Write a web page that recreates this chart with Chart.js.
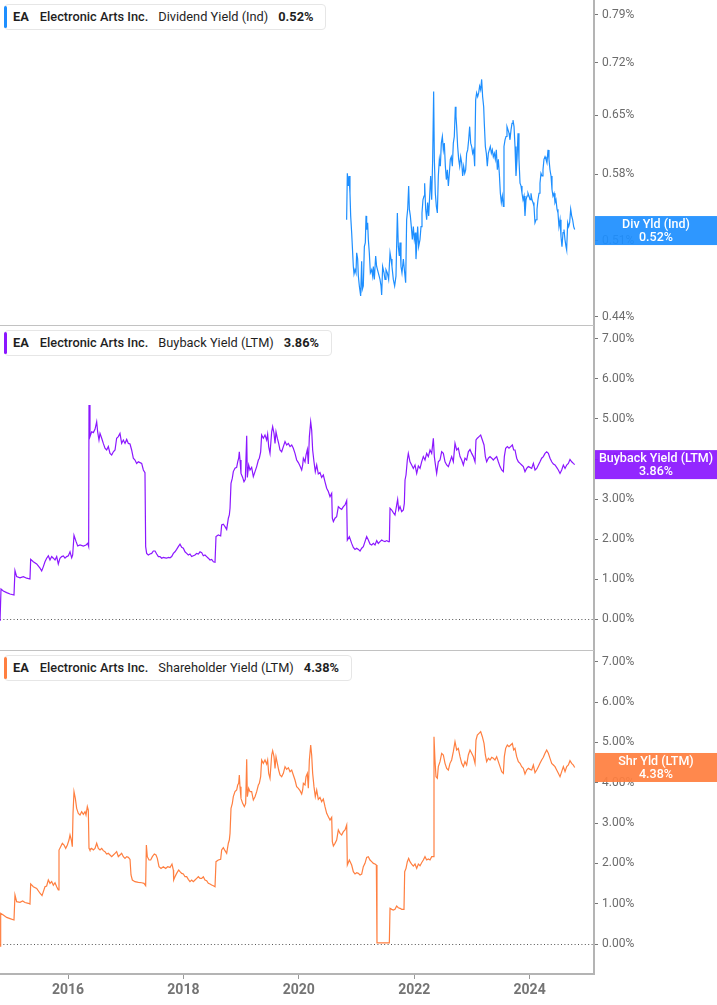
<!DOCTYPE html>
<html>
<head>
<meta charset="utf-8">
<script src="https://cdn.jsdelivr.net/npm/chart.js@4.4.1/dist/chart.umd.min.js"></script>
<style>
body { margin: 0; background: #fff; font-family: Roboto, sans-serif; }
#wrap { position: relative; width: 717px; height: 1005px; overflow: hidden; }
#wrap canvas { position: absolute; left: 0; }
.sep { position: absolute; left: 0; width: 594px; height: 1px; background: #c2c2c2; }
.legend { position: absolute; left: 4px; height: 26px; box-sizing: border-box; border: 1px solid #e6e6e6; border-radius: 4px;
  background: #fff; font-size: 12.8px; color: #1f1f1f; line-height: 24px; padding: 0 12px 0 8px; white-space: nowrap; }
.legend .bar { position: absolute; left: -1px; top: 1px; bottom: 1px; width: 3px; border-radius: 2px; }
.legend b { font-weight: 700; }
.legend .co { font-weight: 500; margin-left: 11px; }
.legend .me { margin-left: 10px; }
.legend .va { font-weight: 700; margin-left: 10px; }
</style>
</head>
<body>
<div id="wrap">
  <canvas id="divChart" width="717" height="325" style="top:0"></canvas>
  <canvas id="buybackChart" width="717" height="325" style="top:325px"></canvas>
  <canvas id="shrChart" width="717" height="355" style="top:650px"></canvas>
  <div class="sep" style="top:325px"></div>
  <div class="sep" style="top:650px"></div>
  <div class="legend" id="divLegend" style="top:4px"></div>
  <div class="legend" id="buybackLegend" style="top:330px"></div>
  <div class="legend" id="shrLegend" style="top:655px"></div>
</div>
<script>
// x axis range (decimal years) and tick labels
const xMin = 2014.8215;
const xMax = 2025.116;
const yearTicks = [2016, 2018, 2020, 2022, 2024];
const divTicks = [0.44, 0.51, 0.58, 0.65, 0.72, 0.79];
const pctTicks = [0, 1, 2, 3, 4, 5, 6, 7];

const divLatest = 0.52;
const buybackLatest = 3.86;
const shrLatest = 4.38;

// Dividend Yield (Ind), %
const divYears = [2020.829,2020.841,2020.858,2020.870,2020.887,2020.899,2020.916,2020.945,2020.957,2020.974,
2020.991,2021.003,2021.020,2021.032,2021.049,2021.072,2021.089,2021.101,2021.118,2021.136,
2021.153,2021.165,2021.176,2021.193,2021.205,2021.222,2021.240,2021.263,2021.280,2021.292,
2021.309,2021.332,2021.349,2021.378,2021.407,2021.425,2021.436,2021.453,2021.477,2021.494,
2021.511,2021.534,2021.557,2021.581,2021.598,2021.615,2021.638,2021.661,2021.684,2021.708,
2021.725,2021.742,2021.754,2021.771,2021.788,2021.812,2021.835,2021.852,2021.869,2021.887,
2021.904,2021.916,2021.933,2021.950,2021.968,2021.985,2022.002,2022.020,2022.031,2022.043,
2022.060,2022.077,2022.100,2022.118,2022.135,2022.152,2022.170,2022.181,2022.199,2022.216,
2022.233,2022.251,2022.268,2022.285,2022.303,2022.320,2022.337,2022.349,2022.366,2022.384,
2022.401,2022.418,2022.436,2022.453,2022.470,2022.488,2022.505,2022.522,2022.540,2022.557,
2022.574,2022.592,2022.609,2022.626,2022.643,2022.661,2022.678,2022.695,2022.713,2022.724,
2022.736,2022.753,2022.771,2022.788,2022.805,2022.823,2022.840,2022.857,2022.875,2022.892,
2022.909,2022.927,2022.944,2022.961,2022.979,2022.996,2023.013,2023.031,2023.048,2023.065,
2023.082,2023.100,2023.117,2023.134,2023.152,2023.169,2023.186,2023.204,2023.215,2023.233,
2023.250,2023.267,2023.285,2023.302,2023.319,2023.337,2023.354,2023.371,2023.389,2023.406,
2023.423,2023.441,2023.458,2023.475,2023.493,2023.510,2023.527,2023.545,2023.556,2023.574,
2023.591,2023.608,2023.626,2023.643,2023.660,2023.678,2023.695,2023.712,2023.730,2023.747,
2023.764,2023.782,2023.799,2023.816,2023.834,2023.851,2023.868,2023.886,2023.903,2023.920,
2023.938,2023.955,2023.972,2023.989,2024.007,2024.024,2024.041,2024.059,2024.076,2024.093,
2024.111,2024.128,2024.145,2024.163,2024.180,2024.197,2024.215,2024.232,2024.249,2024.267,
2024.284,2024.301,2024.319,2024.336,2024.353,2024.371,2024.388,2024.405,2024.423,2024.440,
2024.457,2024.475,2024.492,2024.509,2024.527,2024.544,2024.561,2024.579,2024.596,2024.613,
2024.631,2024.642,2024.660,2024.677,2024.694,2024.712,2024.729,2024.746,2024.764,2024.781];
const divValues = [0.531,0.581,0.567,0.578,0.559,0.535,0.518,0.485,0.478,0.482,
0.479,0.498,0.492,0.476,0.467,0.458,0.490,0.464,0.467,0.504,
0.508,0.535,0.521,0.528,0.511,0.498,0.479,0.482,0.476,0.485,
0.473,0.495,0.485,0.479,0.473,0.467,0.459,0.485,0.479,0.473,
0.482,0.479,0.473,0.498,0.492,0.485,0.473,0.467,0.476,0.538,
0.504,0.495,0.508,0.485,0.479,0.492,0.479,0.470,0.531,0.542,
0.567,0.542,0.535,0.524,0.511,0.524,0.511,0.518,0.492,0.504,
0.524,0.504,0.511,0.524,0.538,0.552,0.556,0.570,0.542,0.531,
0.549,0.535,0.556,0.578,0.552,0.597,0.681,0.597,0.559,0.545,
0.538,0.578,0.597,0.589,0.616,0.624,0.608,0.616,0.589,0.574,
0.585,0.567,0.581,0.597,0.600,0.589,0.616,0.624,0.661,0.649,
0.636,0.612,0.597,0.589,0.600,0.593,0.578,0.589,0.581,0.585,
0.604,0.608,0.620,0.636,0.616,0.612,0.604,0.608,0.589,0.670,
0.679,0.674,0.679,0.688,0.683,0.697,0.674,0.661,0.640,0.612,
0.604,0.589,0.604,0.608,0.612,0.604,0.608,0.600,0.604,0.597,
0.608,0.585,0.597,0.581,0.559,0.549,0.556,0.545,0.612,0.620,
0.624,0.636,0.632,0.628,0.620,0.632,0.640,0.644,0.636,0.612,
0.578,0.597,0.628,0.597,0.570,0.567,0.559,0.552,0.556,0.535,
0.552,0.556,0.559,0.556,0.552,0.559,0.552,0.549,0.545,0.528,
0.531,0.542,0.552,0.559,0.570,0.581,0.578,0.585,0.597,0.600,
0.597,0.593,0.608,0.597,0.585,0.578,0.563,0.556,0.559,0.549,
0.552,0.542,0.538,0.524,0.531,0.514,0.504,0.518,0.521,0.511,
0.504,0.501,0.528,0.524,0.528,0.542,0.535,0.531,0.524,0.521];

// Buyback Yield (LTM), %
const buybackYears = [2014.822,2014.839,2014.879,2014.937,2014.995,2015.064,2015.081,2015.110,2015.168,2015.226,
2015.284,2015.341,2015.353,2015.399,2015.457,2015.515,2015.544,2015.573,2015.601,2015.630,
2015.659,2015.688,2015.717,2015.746,2015.775,2015.804,2015.832,2015.861,2015.890,2015.919,
2015.948,2015.977,2016.006,2016.035,2016.064,2016.081,2016.104,2016.139,2016.168,2016.208,
2016.266,2016.312,2016.341,2016.358,2016.364,2016.381,2016.410,2016.439,2016.468,2016.497,
2016.514,2016.537,2016.555,2016.584,2016.612,2016.641,2016.670,2016.699,2016.728,2016.757,
2016.786,2016.815,2016.843,2016.872,2016.901,2016.930,2016.959,2016.988,2017.017,2017.046,
2017.075,2017.103,2017.132,2017.161,2017.190,2017.219,2017.248,2017.277,2017.306,2017.334,
2017.346,2017.363,2017.392,2017.421,2017.450,2017.479,2017.508,2017.537,2017.566,2017.594,
2017.623,2017.652,2017.681,2017.710,2017.739,2017.768,2017.797,2017.826,2017.854,2017.883,
2017.912,2017.941,2017.970,2017.999,2018.028,2018.057,2018.085,2018.114,2018.143,2018.172,
2018.201,2018.230,2018.259,2018.288,2018.317,2018.345,2018.374,2018.403,2018.432,2018.461,
2018.490,2018.519,2018.548,2018.565,2018.605,2018.646,2018.663,2018.692,2018.721,2018.750,
2018.779,2018.796,2018.808,2018.825,2018.848,2018.865,2018.894,2018.923,2018.941,2018.958,
2018.969,2018.981,2018.998,2019.027,2019.050,2019.073,2019.097,2019.108,2019.131,2019.154,
2019.183,2019.212,2019.241,2019.270,2019.299,2019.316,2019.339,2019.356,2019.385,2019.414,
2019.443,2019.460,2019.478,2019.501,2019.530,2019.547,2019.570,2019.588,2019.605,2019.628,
2019.651,2019.674,2019.703,2019.732,2019.761,2019.790,2019.819,2019.848,2019.877,2019.905,
2019.934,2019.963,2019.992,2020.021,2020.050,2020.067,2020.079,2020.108,2020.125,2020.148,
2020.165,2020.183,2020.206,2020.223,2020.240,2020.263,2020.286,2020.310,2020.338,2020.367,
2020.396,2020.425,2020.454,2020.483,2020.512,2020.541,2020.570,2020.581,2020.599,2020.627,
2020.656,2020.685,2020.714,2020.743,2020.772,2020.801,2020.830,2020.841,2020.876,2020.916,
2020.945,2020.974,2021.003,2021.032,
2021.061,2021.090,2021.118,2021.147,2021.176,2021.205,2021.234,2021.263,2021.292,2021.321,
2021.350,2021.378,2021.407,2021.436,2021.465,2021.494,2021.523,2021.552,2021.569,2021.581,
2021.610,2021.638,2021.667,2021.696,2021.713,2021.731,2021.754,2021.783,2021.812,2021.829,
2021.841,2021.858,2021.881,2021.898,2021.927,2021.956,2021.985,2022.014,2022.043,2022.072,
2022.101,2022.129,2022.158,2022.187,2022.216,2022.245,2022.274,2022.303,2022.332,2022.349,
2022.372,2022.389,2022.418,2022.447,2022.476,2022.505,2022.534,2022.563,2022.592,2022.620,
2022.649,2022.678,2022.707,2022.736,2022.765,2022.794,2022.823,2022.852,2022.880,2022.909,
2022.938,2022.967,2022.996,2023.025,2023.054,2023.071,2023.094,2023.123,2023.152,2023.181,
2023.210,2023.233,2023.256,2023.285,2023.314,2023.343,2023.371,2023.400,2023.429,2023.458,
2023.487,2023.516,2023.545,2023.562,2023.585,2023.614,2023.643,2023.672,2023.701,2023.724,
2023.747,2023.776,2023.805,2023.834,2023.863,2023.891,2023.920,2023.949,2023.978,2024.007,
2024.036,2024.065,2024.094,2024.123,2024.152,2024.180,2024.209,2024.238,2024.267,2024.296,
2024.325,2024.354,2024.383,2024.412,2024.440,2024.469,2024.498,2024.527,2024.556,2024.585,
2024.614,2024.643,2024.672,2024.700,2024.729,2024.758,2024.781];
const buybackValues = [-0.05,0.75,0.70,0.66,0.625,0.60,1.21,1.06,1.03,1.06,
1.02,1.00,1.49,1.43,1.375,1.27,1.20,1.31,1.43,1.52,
1.58,1.475,1.56,1.52,1.475,1.56,1.375,1.52,1.56,1.575,
1.52,1.56,1.58,1.68,1.53,1.60,2.09,1.94,1.825,1.85,
1.825,1.85,1.89,1.81,5.35,4.56,4.68,4.66,4.74,4.93,
4.68,4.475,4.64,4.52,4.39,4.27,4.225,4.31,4.14,4.10,
4.18,4.225,4.52,4.56,4.64,4.39,4.475,4.39,4.49,4.39,
4.375,4.225,4.02,3.975,3.89,3.93,3.91,3.89,3.725,3.66,
1.81,1.64,1.60,1.625,1.64,1.70,1.70,1.625,1.56,1.56,
1.52,1.54,1.53,1.52,1.54,1.53,1.56,1.64,1.68,1.74,
1.81,1.87,1.79,1.77,1.68,1.64,1.60,1.625,1.56,1.58,
1.60,1.64,1.625,1.68,1.66,1.58,1.60,1.56,1.52,1.475,
1.49,1.43,1.42,2.06,2.10,2.075,2.35,2.37,2.31,2.24,
2.52,2.60,2.77,3.39,3.52,3.685,3.77,3.79,3.93,4.02,
4.18,3.975,3.64,3.54,3.43,3.49,4.58,3.54,3.85,3.725,
3.79,3.56,3.685,3.81,3.975,4.02,4.18,4.60,4.52,4.60,
4.475,4.62,4.31,4.14,4.68,4.81,4.64,4.39,4.68,4.52,
4.39,4.225,4.18,4.31,4.435,4.35,4.39,4.31,4.35,4.27,
4.14,3.975,3.91,3.825,3.725,3.85,4.02,3.93,4.10,4.24,
3.875,4.56,4.93,4.725,4.225,3.93,3.685,3.85,3.625,3.66,
3.54,3.60,3.43,3.27,3.185,3.06,3.14,2.52,2.435,2.52,
2.56,2.81,2.77,2.74,2.81,2.85,2.96,1.975,2.06,1.89,
1.79,1.74,1.77,1.74,
1.70,1.77,1.81,1.935,2.06,1.975,1.875,1.85,1.89,1.85,
1.96,1.89,1.935,1.975,1.95,1.935,1.96,1.935,1.935,2.77,
2.725,2.66,2.60,2.85,2.99,2.725,2.81,2.685,2.725,2.89,
3.475,3.60,3.975,4.14,3.93,3.85,3.765,3.85,3.64,3.825,
3.765,3.93,4.06,3.975,4.14,4.06,4.225,4.14,4.52,4.06,
3.81,3.64,3.93,3.975,4.18,4.14,3.93,3.85,3.81,3.93,
4.06,3.93,4.39,4.225,4.27,4.06,3.975,3.85,4.02,3.975,
4.18,4.24,4.14,4.06,3.93,4.475,4.52,4.56,4.60,4.475,
4.35,4.06,3.93,4.02,4.06,4.02,3.975,4.02,4.06,3.93,
3.81,3.725,3.685,4.06,4.27,4.31,4.27,4.31,4.35,4.225,
4.225,4.02,3.93,3.89,3.85,3.81,3.685,3.765,3.81,3.79,
3.765,3.89,3.725,3.765,3.85,3.93,4.02,4.06,4.14,4.18,
4.14,4.02,3.93,3.875,3.85,3.79,3.725,3.64,3.725,3.85,
3.765,3.85,3.89,3.99,3.93,3.89,3.86];

// Shareholder Yield (LTM), %
const shrYears = [2014.822,2014.833,2014.879,2014.937,2014.995,2015.064,2015.081,2015.110,2015.168,2015.214,
2015.255,2015.313,2015.341,2015.353,2015.399,2015.457,2015.515,2015.550,2015.573,2015.601,
2015.630,2015.659,2015.688,2015.717,2015.746,2015.775,2015.804,2015.832,2015.844,2015.873,
2015.902,2015.931,2015.960,2015.989,2016.017,2016.035,2016.058,2016.075,2016.087,2016.104,
2016.127,2016.150,2016.179,2016.208,2016.237,2016.266,2016.295,2016.312,2016.335,2016.352,
2016.364,2016.381,2016.410,2016.439,2016.468,2016.497,2016.526,2016.555,2016.584,2016.612,
2016.641,2016.670,2016.699,2016.728,2016.757,2016.786,2016.815,2016.843,2016.872,2016.901,
2016.930,2016.959,2016.988,2017.017,2017.046,2017.075,2017.092,2017.115,2017.161,2017.219,
2017.277,2017.317,2017.346,2017.358,2017.375,2017.404,2017.433,2017.462,2017.496,2017.525,
2017.548,2017.577,2017.612,2017.652,2017.693,2017.727,2017.768,2017.802,2017.826,2017.831,
2017.854,2017.883,2017.918,2017.941,2017.970,2017.999,2018.028,2018.057,2018.085,2018.114,
2018.143,2018.172,2018.201,2018.230,2018.259,2018.288,2018.317,2018.345,2018.374,2018.403,
2018.432,2018.461,2018.490,2018.519,2018.548,2018.565,2018.605,2018.646,2018.663,2018.692,
2018.721,2018.750,2018.779,2018.796,2018.808,2018.825,2018.848,2018.865,2018.894,2018.923,
2018.941,2018.958,2018.969,2018.981,2018.998,2019.027,2019.056,2019.079,2019.097,2019.108,
2019.131,2019.154,2019.183,2019.212,2019.241,2019.270,2019.299,2019.316,2019.339,2019.356,
2019.385,2019.414,2019.443,2019.460,2019.478,2019.501,2019.530,2019.547,2019.570,2019.588,
2019.605,2019.628,2019.651,2019.674,2019.703,2019.732,2019.761,2019.790,2019.819,2019.848,
2019.877,2019.905,2019.934,2019.963,2019.992,2020.021,2020.050,2020.067,2020.079,2020.108,
2020.125,2020.148,2020.165,2020.183,2020.206,2020.223,2020.240,2020.263,2020.286,2020.310,
2020.338,2020.367,2020.396,2020.425,2020.454,2020.483,2020.512,2020.541,2020.570,2020.581,
2020.599,2020.627,2020.656,2020.685,2020.714,2020.743,2020.772,2020.801,2020.830,2020.841,
2020.876,2020.916,2020.945,2020.974,2021.003,2021.032,
2021.061,2021.090,2021.118,2021.147,2021.176,2021.205,2021.234,2021.263,2021.292,2021.321,
2021.344,2021.355,2021.460,2021.569,2021.581,2021.610,2021.638,2021.667,2021.696,2021.725,
2021.754,2021.783,2021.823,2021.835,2021.858,2021.881,2021.904,2021.927,2021.956,2021.985,
2022.014,2022.043,2022.072,2022.101,2022.129,2022.158,2022.187,2022.216,2022.245,2022.274,
2022.303,2022.332,2022.343,2022.360,2022.378,2022.401,2022.418,2022.447,2022.476,2022.505,
2022.534,2022.563,2022.592,2022.620,2022.649,2022.678,2022.707,2022.736,2022.765,2022.794,
2022.823,2022.852,2022.880,2022.909,2022.938,2022.967,2022.996,2023.025,2023.054,2023.071,
2023.094,2023.123,2023.152,2023.181,2023.210,2023.233,2023.256,2023.285,2023.314,2023.343,
2023.371,2023.400,2023.429,2023.458,2023.487,2023.516,2023.545,2023.562,2023.585,2023.614,
2023.643,2023.672,2023.701,2023.724,2023.747,2023.776,2023.805,2023.834,2023.863,2023.891,
2023.920,2023.949,2023.978,2024.007,2024.036,2024.065,2024.094,2024.123,2024.152,2024.180,
2024.209,2024.238,2024.267,2024.296,2024.325,2024.354,2024.383,2024.412,2024.440,2024.469,
2024.498,2024.527,2024.556,2024.585,2024.614,2024.643,2024.672,2024.700,2024.729,2024.758,
2024.781];
const shrValues = [-0.05,0.76,0.72,0.66,0.63,0.595,1.216,1.05,1.034,1.07,
1.03,1.01,0.99,1.49,1.42,1.38,1.26,1.20,1.30,1.42,
1.44,1.59,1.505,1.55,1.46,1.52,1.42,1.34,2.33,2.415,
2.50,2.456,2.374,2.456,2.58,2.705,2.58,2.415,3.24,3.78,
3.614,3.366,3.24,3.20,3.283,3.217,3.283,3.20,3.41,3.325,
2.374,2.333,2.374,2.333,2.374,2.50,2.374,2.333,2.374,2.316,
2.291,2.233,2.25,2.208,2.167,2.208,2.25,2.291,2.167,2.208,
2.25,2.167,2.125,2.167,2.15,2.10,1.712,1.588,1.547,1.53,
1.52,1.505,1.447,2.456,2.167,2.084,2.084,2.167,2.233,2.208,
2.125,1.919,1.877,1.919,1.877,1.919,1.90,1.985,1.836,1.588,
1.67,1.753,1.836,1.795,1.753,1.737,1.67,1.67,1.604,1.547,
1.588,1.547,1.588,1.63,1.67,1.63,1.63,1.67,1.588,1.571,
1.505,1.489,1.464,1.447,1.42,2.043,2.084,2.10,2.333,2.39,
2.316,2.25,2.50,2.58,2.746,3.366,3.49,3.656,3.78,3.821,
3.945,3.987,4.193,3.904,3.614,3.49,3.408,3.49,4.582,3.656,
3.863,3.78,3.78,3.573,3.656,3.78,3.945,3.987,4.152,4.566,
4.483,4.566,4.466,4.566,4.235,4.111,4.69,4.797,4.648,4.359,
4.648,4.483,4.317,4.193,4.152,4.235,4.40,4.334,4.375,4.276,
4.317,4.193,4.069,3.904,3.863,3.805,3.722,3.821,3.987,3.945,
4.152,4.235,3.863,4.566,4.938,4.69,4.235,3.904,3.656,3.821,
3.59,3.64,3.532,3.598,3.408,3.242,3.16,3.077,3.143,2.54,
2.432,2.498,2.58,2.829,2.746,2.705,2.787,2.829,2.953,1.96,
2.084,1.96,1.795,1.737,1.77,1.753,
1.712,1.737,1.919,2.001,2.15,2.167,2.084,2.043,2.001,1.985,
1.96,0.03,0.03,0.03,0.885,0.86,0.843,0.86,0.943,0.901,
0.885,0.86,0.86,1.795,1.877,2.043,2.126,2.043,1.985,1.935,
1.985,1.877,1.985,1.944,2.018,2.084,2.167,2.084,2.109,2.084,
2.167,2.167,5.144,4.566,4.152,4.111,4.40,4.524,4.731,4.69,
4.483,4.359,4.317,4.483,4.566,4.772,5.02,4.814,4.855,4.648,
4.483,4.40,4.524,4.441,4.69,4.814,4.731,4.648,4.483,5.062,
5.186,5.227,5.269,5.144,4.979,4.69,4.524,4.607,4.566,4.632,
4.607,4.566,4.648,4.524,4.40,4.276,4.235,4.648,4.855,4.938,
4.896,4.938,4.979,4.814,4.855,4.648,4.524,4.483,4.40,4.359,
4.218,4.317,4.359,4.334,4.317,4.441,4.251,4.317,4.40,4.483,
4.566,4.632,4.731,4.814,4.731,4.607,4.483,4.441,4.40,4.317,
4.235,4.152,4.276,4.40,4.276,4.40,4.441,4.549,4.483,4.441,
4.38];

Chart.defaults.font.family = 'Roboto, sans-serif';
Chart.defaults.font.size = 12;

// dotted zero line + value box on the right axis
const panelDecor = {
    id: 'panelDecor',
    beforeDatasetsDraw(chart, args, o) {
        if (!o.zeroLine) return;
        const {ctx, chartArea, scales} = chart;
        const y0 = Math.round(scales.y.getPixelForValue(0)) + 0.5;
        ctx.save();
        ctx.strokeStyle = '#555';
        ctx.lineWidth = 1;
        ctx.setLineDash([1, 2.4]);
        ctx.beginPath();
        ctx.moveTo(chartArea.left, y0);
        ctx.lineTo(chartArea.right, y0);
        ctx.stroke();
        ctx.restore();
    },
    afterDraw(chart, args, o) {
        const {ctx, chartArea, scales} = chart;
        const yc = scales.y.getPixelForValue(o.value);
        const xc = (chartArea.right + 1 + chart.width) / 2;
        ctx.save();
        ctx.globalAlpha = 0.93;
        ctx.fillStyle = o.color;
        ctx.fillRect(chartArea.right + 1, yc - 14.5, chart.width - chartArea.right - 1, 29);
        ctx.globalAlpha = 1;
        ctx.fillStyle = '#fff';
        ctx.font = '500 12.5px Roboto, sans-serif';
        ctx.textAlign = 'center';
        ctx.textBaseline = 'middle';
        ctx.fillText(o.label, xc, yc - 6);
        ctx.fillText(o.value.toFixed(2) + '%', xc, yc + 7);
        ctx.restore();
    }
};

function makeYScale(type, min, max, ticks) {
    return {
        type: type,
        position: 'right',
        min: min,
        max: max,
        afterBuildTicks: s => { s.ticks = ticks.map(v => ({value: v})); },
        afterFit: s => { s.width = 123; s.paddingTop = 0; s.paddingBottom = 0; },
        grid: { drawOnChartArea: false, tickLength: 4, tickColor: '#777' },
        border: { color: '#b4b4b4', width: 2 },
        ticks: { color: '#6b6b6b', padding: 4, autoSkip: false, callback: v => Number(v).toFixed(2) + '%' }
    };
}

function makePanel(id, years, values, color, yScale, decor, showX) {
    const data = years.map((x, i) => ({x: x, y: values[i]}));
    return new Chart(document.getElementById(id), {
        type: 'line',
        data: {
            datasets: [{
                data: data,
                borderColor: color,
                borderWidth: 1.2,
                pointRadius: 0,
                tension: 0,
                fill: false
            }]
        },
        options: {
            responsive: false,
            animation: false,
            layout: { padding: 0 },
            plugins: {
                legend: { display: false },
                tooltip: { enabled: false },
                panelDecor: decor
            },
            scales: {
                x: {
                    type: 'linear',
                    min: xMin,
                    max: xMax,
                    display: showX,
                    afterBuildTicks: s => { s.ticks = yearTicks.map(v => ({value: v})); },
                    afterFit: s => {
                        s.height = showX ? 31 : 0;
                        s.paddingLeft = 0;
                        s.paddingRight = 0;
                    },
                    grid: { drawOnChartArea: false, tickLength: 5, tickColor: '#999' },
                    border: { color: '#b4b4b4', width: 2 },
                    ticks: { color: '#747474', font: { size: 14, weight: 'bold' }, padding: 3, maxRotation: 0, callback: v => String(v) }
                },
                y: yScale
            }
        },
        plugins: [panelDecor]
    });
}

function fillLegend(id, color, metric, latest) {
    document.getElementById(id).innerHTML =
        '<span class="bar" style="background:' + color + '"></span><b>EA</b>' +
        '<span class="co">Electronic Arts Inc.</span><span class="me">' + metric + '</span>' +
        '<span class="va">' + latest.toFixed(2) + '%</span>';
}

const blue = '#1e8fff';
const purple = '#8b17ff';
const orange = '#ff7f40';

makePanel('divChart', divYears, divValues, blue,
    makeYScale('logarithmic', 0.433, 0.813, divTicks),
    { value: divLatest, label: 'Div Yld (Ind)', color: blue, zeroLine: false }, false);

makePanel('buybackChart', buybackYears, buybackValues, purple,
    makeYScale('linear', -0.775, 7.35, pctTicks),
    { value: buybackLatest, label: 'Buyback Yield (LTM)', color: purple, zeroLine: true }, false);

makePanel('shrChart', shrYears, shrValues, orange,
    makeYScale('linear', -0.744, 7.295, pctTicks),
    { value: shrLatest, label: 'Shr Yld (LTM)', color: orange, zeroLine: true }, true);

fillLegend('divLegend', blue, 'Dividend Yield (Ind)', divLatest);
fillLegend('buybackLegend', purple, 'Buyback Yield (LTM)', buybackLatest);
fillLegend('shrLegend', orange, 'Shareholder Yield (LTM)', shrLatest);
</script>
</body>
</html>
